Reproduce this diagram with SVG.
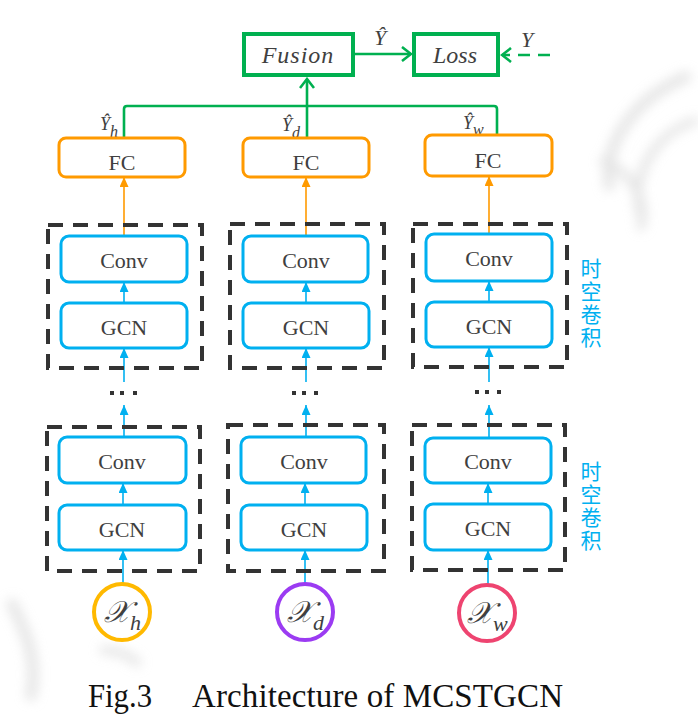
<svg xmlns="http://www.w3.org/2000/svg" width="698" height="728" viewBox="0 0 698 728">
<defs>
<style>
.lbl{font-family:"Liberation Serif","Times New Roman",serif;fill:#404040;font-size:22px;text-anchor:middle}
.blue{fill:#fff;stroke:#00B0F0;stroke-width:3}
.orange{fill:#fff;stroke:#FF9A00;stroke-width:3}
.dash{fill:none;stroke:#333;stroke-width:4;stroke-dasharray:15 10}
.ba{stroke:#00B0F0;stroke-width:1.6;fill:none}
.oa{stroke:#FF9A00;stroke-width:1.6;fill:none}
.ga{stroke:#00B050;stroke-width:2.6;fill:none}
.gbox{fill:#fff;stroke:#00B050;stroke-width:4}
.it{font-family:"Liberation Serif",serif;font-style:italic;fill:#404040}
.cjk{font-family:"Noto Sans CJK SC",sans-serif;fill:#00B0F0;font-size:21px;writing-mode:vertical-rl;letter-spacing:2px}
.dot{fill:#333}
.cap{font-family:"Liberation Serif","Times New Roman",serif;font-size:33px;fill:#111}
</style>
<marker id="mb" viewBox="0 0 10 9" refX="10" refY="4.5" markerWidth="10" markerHeight="9" markerUnits="userSpaceOnUse" orient="auto"><path d="M0,0 L10,4.5 L0,9 z" fill="#00B0F0"/></marker>
<marker id="mo" viewBox="0 0 10 9" refX="10" refY="4.5" markerWidth="10" markerHeight="9" markerUnits="userSpaceOnUse" orient="auto"><path d="M0,0 L10,4.5 L0,9 z" fill="#FF9A00"/></marker>
<marker id="mg" viewBox="0 0 12 16" refX="10" refY="8" markerWidth="12" markerHeight="16" markerUnits="userSpaceOnUse" orient="auto"><path d="M1,1 L10,8 L1,15" fill="none" stroke="#00B050" stroke-width="2.6"/></marker>
<filter id="blur" x="-50%" y="-50%" width="200%" height="200%"><feGaussianBlur stdDeviation="6"/></filter>
</defs>
<rect width="698" height="728" fill="#fff"/>
<g id="background" filter="url(#blur)" fill="none" stroke="#d8d8d8" opacity="0.7">
<path d="M690,75 C640,95 600,140 610,190" stroke-width="10"/>
<path d="M698,120 C660,130 630,170 640,215" stroke-width="8"/>
<path d="M600,160 C630,170 650,200 640,230" stroke-width="8"/>
<path d="M10,600 C25,630 40,660 30,700" stroke-width="10"/>
<path d="M100,650 C115,650 130,655 140,665" stroke-width="8"/>
</g>
<g id="connectors">
<path class="ga" d="M124,138 V109 Q124,106 127,106 H494 Q497,106 497,109 V135"/>
<line class="ga" x1="307" y1="138" x2="307" y2="79" marker-end="url(#mg)"/>
<line class="ga" x1="354" y1="54" x2="411" y2="54" marker-end="url(#mg)"/>
<line class="ga" x1="550" y1="55" x2="502" y2="55" stroke-dasharray="12 8" marker-end="url(#mg)"/>
<line class="oa" x1="124" y1="236" x2="124" y2="177" marker-end="url(#mo)"/>
<line class="oa" x1="306" y1="236" x2="306" y2="177" marker-end="url(#mo)"/>
<line class="oa" x1="489" y1="234" x2="489" y2="176" marker-end="url(#mo)"/>
<line class="ba" x1="124" y1="303" x2="124" y2="282" marker-end="url(#mb)"/>
<line class="ba" x1="124" y1="382" x2="124" y2="348" marker-end="url(#mb)"/>
<line class="ba" x1="124" y1="437" x2="124" y2="405" marker-end="url(#mb)"/>
<line class="ba" x1="123" y1="505" x2="123" y2="483" marker-end="url(#mb)"/>
<line class="ba" x1="123" y1="584" x2="123" y2="550" marker-end="url(#mb)"/>
<line class="ba" x1="306" y1="303" x2="306" y2="282" marker-end="url(#mb)"/>
<line class="ba" x1="306" y1="382" x2="306" y2="348" marker-end="url(#mb)"/>
<line class="ba" x1="306" y1="437" x2="306" y2="405" marker-end="url(#mb)"/>
<line class="ba" x1="305" y1="505" x2="305" y2="483" marker-end="url(#mb)"/>
<line class="ba" x1="305" y1="584" x2="305" y2="550" marker-end="url(#mb)"/>
<line class="ba" x1="489" y1="302" x2="489" y2="281" marker-end="url(#mb)"/>
<line class="ba" x1="489" y1="382" x2="489" y2="347" marker-end="url(#mb)"/>
<line class="ba" x1="489" y1="438" x2="489" y2="405" marker-end="url(#mb)"/>
<line class="ba" x1="488" y1="504" x2="488" y2="483" marker-end="url(#mb)"/>
<line class="ba" x1="488" y1="585" x2="488" y2="550" marker-end="url(#mb)"/>
</g>
<g id="fusion"><rect class="gbox" x="244" y="34" width="109" height="41"/><text class="it" x="298" y="63" font-size="24" letter-spacing="1" text-anchor="middle">Fusion</text></g>
<g id="loss"><rect class="gbox" x="414" y="34" width="84" height="41"/><text class="it" x="455" y="63" font-size="24" text-anchor="middle">Loss</text></g>
<g id="labels-y">
<text class="it" x="380" y="45" font-size="22" text-anchor="middle">Ŷ</text>
<text class="it" x="527" y="47" font-size="22" text-anchor="middle">Y</text>
<text class="it" x="100" y="130" font-size="18">Ŷ<tspan font-size="16" dy="7">h</tspan></text>
<text class="it" x="282" y="131" font-size="18">Ŷ<tspan font-size="16" dy="7">d</tspan></text>
<text class="it" x="463" y="129" font-size="18">Ŷ<tspan font-size="16" dy="6">w</tspan></text>
</g>
<g id="col-h">
<g id="fc-h"><rect class="orange" x="59" y="138" width="126" height="39" rx="7"/><text class="lbl" x="122" y="170">FC</text></g>
<g id="stconv-h-2"><rect class="dash" x="48" y="225" width="154" height="143"/>
<g id="conv-h-2"><rect class="blue" x="61" y="236" width="126" height="46" rx="8"/><text class="lbl" x="124" y="268">Conv</text></g>
<g id="gcn-h-2"><rect class="blue" x="61" y="303" width="126" height="45" rx="8"/><text class="lbl" x="124" y="335">GCN</text></g></g>
<g id="dots-h"><rect class="dot" x="110" y="391" width="4" height="4"/><rect class="dot" x="120" y="391" width="4" height="4"/><rect class="dot" x="133" y="391" width="4" height="4"/></g>
<g id="stconv-h-1"><rect class="dash" x="47" y="427" width="153" height="144"/>
<g id="conv-h-1"><rect class="blue" x="59" y="437" width="127" height="46" rx="8"/><text class="lbl" x="122" y="469">Conv</text></g>
<g id="gcn-h-1"><rect class="blue" x="59" y="505" width="127" height="45" rx="8"/><text class="lbl" x="122" y="537">GCN</text></g></g>
<g id="x-h"><circle cx="122" cy="612" r="28" fill="#fff" stroke="#FFB900" stroke-width="4"/><text class="it" x="104" y="622" font-size="30" font-style="normal">𝒳<tspan font-size="22" dy="8">h</tspan></text></g>
</g>
<g id="col-d">
<g id="fc-d"><rect class="orange" x="243" y="138" width="126" height="39" rx="7"/><text class="lbl" x="306" y="170">FC</text></g>
<g id="stconv-d-2"><rect class="dash" x="230" y="224" width="154" height="144"/>
<g id="conv-d-2"><rect class="blue" x="243" y="236" width="125" height="46" rx="8"/><text class="lbl" x="306" y="268">Conv</text></g>
<g id="gcn-d-2"><rect class="blue" x="243" y="303" width="126" height="45" rx="8"/><text class="lbl" x="306" y="335">GCN</text></g></g>
<g id="dots-d"><rect class="dot" x="292" y="391" width="4" height="4"/><rect class="dot" x="302" y="391" width="4" height="4"/><rect class="dot" x="314" y="391" width="4" height="4"/></g>
<g id="stconv-d-1"><rect class="dash" x="228" y="425" width="156" height="146"/>
<g id="conv-d-1"><rect class="blue" x="241" y="437" width="125" height="46" rx="8"/><text class="lbl" x="304" y="469">Conv</text></g>
<g id="gcn-d-1"><rect class="blue" x="241" y="505" width="126" height="45" rx="8"/><text class="lbl" x="304" y="537">GCN</text></g></g>
<g id="x-d"><circle cx="305" cy="612" r="28" fill="#fff" stroke="#9B3BF2" stroke-width="4"/><text class="it" x="287" y="622" font-size="30" font-style="normal">𝒳<tspan font-size="22" dy="8">d</tspan></text></g>
</g>
<g id="col-w">
<g id="fc-w"><rect class="orange" x="425" y="135" width="127" height="41" rx="7"/><text class="lbl" x="488" y="168">FC</text></g>
<g id="stconv-w-2"><rect class="dash" x="413" y="224" width="154" height="143"/>
<g id="conv-w-2"><rect class="blue" x="426" y="234" width="126" height="47" rx="8"/><text class="lbl" x="489" y="266">Conv</text></g>
<g id="gcn-w-2"><rect class="blue" x="426" y="302" width="126" height="45" rx="8"/><text class="lbl" x="489" y="334">GCN</text></g></g>
<g id="dots-w"><rect class="dot" x="475" y="390" width="4" height="4"/><rect class="dot" x="485" y="390" width="4" height="4"/><rect class="dot" x="497" y="390" width="4" height="4"/></g>
<g id="stconv-w-1"><rect class="dash" x="412" y="425" width="153" height="145"/>
<g id="conv-w-1"><rect class="blue" x="425" y="438" width="126" height="45" rx="8"/><text class="lbl" x="488" y="469">Conv</text></g>
<g id="gcn-w-1"><rect class="blue" x="425" y="504" width="126" height="46" rx="8"/><text class="lbl" x="488" y="536">GCN</text></g></g>
<g id="x-w"><circle cx="487" cy="613" r="28" fill="#fff" stroke="#EE4470" stroke-width="4"/><text class="it" x="467" y="623" font-size="30" font-style="normal">𝒳<tspan font-size="22" dy="8">w</tspan></text></g>
</g>
<g id="stconv-labels">
<text class="cjk" x="591" y="258">时空卷积</text>
<text class="cjk" x="591" y="461">时空卷积</text>
</g>
<g id="caption">
<text class="cap" x="88" y="707" textLength="64" lengthAdjust="spacingAndGlyphs">Fig.3</text>
<text class="cap" x="192" y="707" textLength="371" lengthAdjust="spacing">Architecture of MCSTGCN</text>
</g>
</svg>
